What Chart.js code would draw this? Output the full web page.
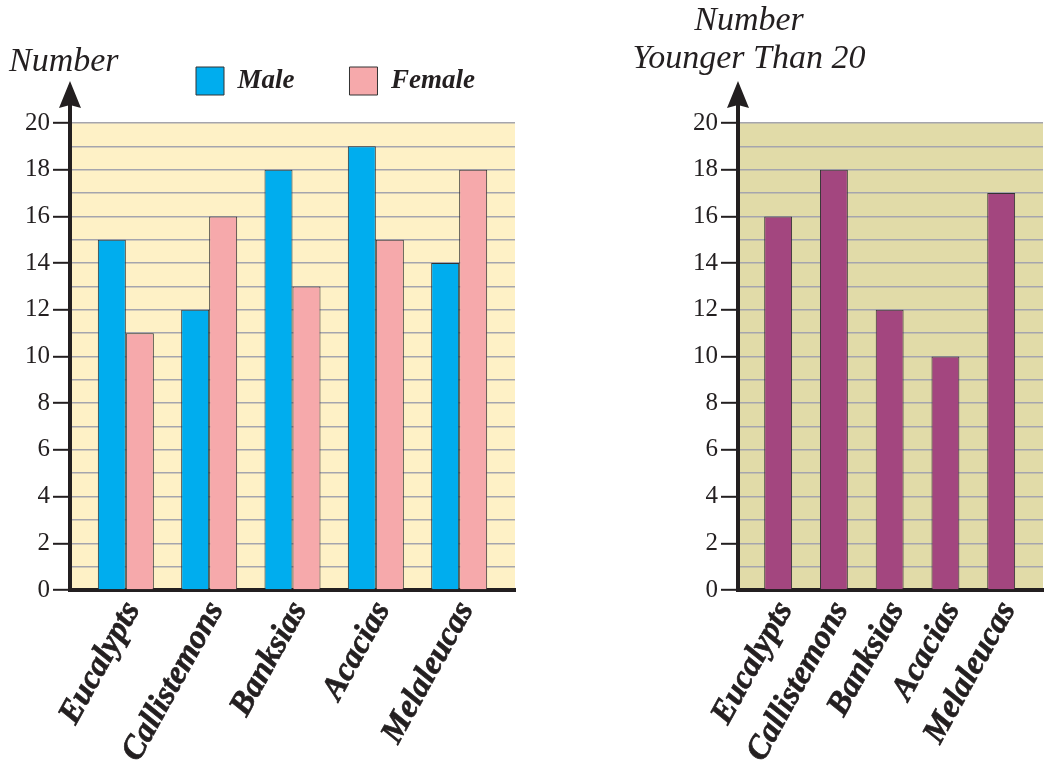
<!DOCTYPE html>
<html>
<head>
<meta charset="utf-8">
<script src="https://cdn.jsdelivr.net/npm/chart.js@4.4.1/dist/chart.umd.min.js"></script>
<style>
  html, body { margin: 0; padding: 0; background: #ffffff; }
  body { width: 1046px; height: 769px; position: relative; overflow: hidden; }
  .panel { position: absolute; top: 0; }
  #panelLeft { left: 0; width: 540px; height: 769px; }
  #panelRight { left: 560px; width: 486px; height: 769px; }
</style>
</head>
<body>
<div class="panel" id="panelLeft"><canvas id="genderChart" width="540" height="769"></canvas></div>
<div class="panel" id="panelRight"><canvas id="youngChart" width="486" height="769"></canvas></div>
<script>
// Tree counts by type
const categories = ['Eucalypts', 'Callistemons', 'Banksias', 'Acacias', 'Melaleucas'];
const maleCounts = [15, 12, 18, 19, 14];
const femaleCounts = [11, 16, 13, 15, 18];
const youngerThan20 = [16, 18, 12, 10, 17];
const yTickLabels = [0, 2, 4, 6, 8, 10, 12, 14, 16, 18, 20];

const SERIF = "'Liberation Serif', 'Times New Roman', serif";
const INK = '#231f20';
const GRID = '#a5a5ad';

const toPoints = vals => vals.map((v, i) => ({ x: i, y: v }));

// Fills the plot area, draws the arrowed value axis and the axis caption
const axisDecor = {
  id: 'axisDecor',
  beforeDraw(chart, args, opts) {
    const { ctx, chartArea: a } = chart;
    ctx.save();
    ctx.fillStyle = opts.fill;
    ctx.fillRect(a.left, a.top, a.right - a.left, a.bottom - a.top);
    ctx.restore();
  },
  afterDraw(chart, args, opts) {
    const { ctx, chartArea: a } = chart;
    const x = a.left;
    ctx.save();
    ctx.strokeStyle = INK;
    ctx.lineWidth = 4;
    ctx.beginPath();
    ctx.moveTo(x, a.top + 2);
    ctx.lineTo(x, a.top - 20);
    ctx.stroke();
    ctx.fillStyle = INK;
    ctx.beginPath();
    ctx.moveTo(x, a.top - 42);
    ctx.lineTo(x + 11, a.top - 15);
    ctx.lineTo(x, a.top - 18);
    ctx.lineTo(x - 11, a.top - 15);
    ctx.closePath();
    ctx.fill();
    ctx.font = `italic 34px ${SERIF}`;
    ctx.textAlign = opts.align;
    ctx.textBaseline = 'alphabetic';
    opts.lines.forEach(l => ctx.fillText(l.text, l.x, l.y));
    ctx.restore();
  }
};

// Places the legend row above the plot
const legendPlace = {
  id: 'legendPlace',
  afterLayout(chart, args, opts) {
    const lg = chart.legend;
    if (!lg || !opts.enabled) return;
    lg.left = opts.left;
    lg.right = opts.left + 1000;
    lg.top = opts.top;
  }
};

function buildScales(xMin, xMax) {
  return {
    x: {
      type: 'linear',
      bounds: 'data',
      offset: false,
      min: xMin,
      max: xMax,
      afterBuildTicks: s => { s.ticks = categories.map((c, i) => ({ value: i })); },
      afterFit: s => { s.height = 179; },
      grid: { display: false, offset: false },
      border: { display: true, color: INK, width: 4 },
      ticks: {
        autoSkip: false,
        minRotation: 61,
        maxRotation: 61,
        padding: -3,
        labelOffset: 7,
        color: INK,
        textStrokeColor: INK,
        textStrokeWidth: 0.7,
        font: { family: SERIF, size: 33, style: 'italic', weight: 'bold' },
        callback: v => categories[v]
      }
    },
    y: {
      min: 0,
      max: 20,
      afterFit: s => { s.width = 70; },
      ticks: {
        stepSize: 1,
        autoSkip: false,
        padding: 3,
        color: INK,
        font: { family: SERIF, size: 25 },
        callback: v => (yTickLabels.includes(v) ? String(v) : '')
      },
      grid: {
        color: c => (c.tick && c.tick.value === 0 ? 'rgba(0,0,0,0)' : GRID),
        lineWidth: 1.6,
        tickLength: 17,
        tickWidth: 2,
        tickColor: c => (c.tick && yTickLabels.includes(c.tick.value) ? INK : 'rgba(0,0,0,0)')
      },
      border: { display: true, color: INK, width: 4 }
    }
  };
}

new Chart(document.getElementById('genderChart'), {
  type: 'bar',
  data: {
    datasets: [
      {
        label: 'Male',
        data: toPoints(maleCounts),
        backgroundColor: '#00adee',
        borderColor: '#333333',
        borderWidth: 1,
        categoryPercentage: 0.672,
        barPercentage: 1
      },
      {
        label: 'Female',
        data: toPoints(femaleCounts),
        backgroundColor: '#f6a9ab',
        borderColor: '#333333',
        borderWidth: 1,
        categoryPercentage: 0.672,
        barPercentage: 1
      }
    ]
  },
  options: {
    responsive: false,
    animation: false,
    devicePixelRatio: 1,
    layout: { padding: { top: 30, left: 0, right: 25, bottom: 0 } },
    scales: buildScales(-0.67, 4.67),
    plugins: {
      tooltip: { enabled: false },
      legend: {
        display: true,
        position: 'top',
        align: 'start',
        labels: {
          boxWidth: 28,
          boxHeight: 28,
          padding: 55,
          color: INK,
          font: { family: SERIF, size: 27, style: 'italic', weight: 'bold' }
        }
      },
      legendPlace: { enabled: true, left: 141, top: 12 },
      axisDecor: {
        fill: '#fef1c6',
        align: 'left',
        lines: [{ text: 'Number', x: 9, y: 71 }]
      }
    }
  },
  plugins: [axisDecor, legendPlace]
});

new Chart(document.getElementById('youngChart'), {
  type: 'bar',
  data: {
    datasets: [
      {
        label: 'Younger Than 20',
        data: toPoints(youngerThan20),
        backgroundColor: '#a3467f',
        borderColor: '#333333',
        borderWidth: 1,
        categoryPercentage: 0.5,
        barPercentage: 1
      }
    ]
  },
  options: {
    responsive: false,
    animation: false,
    devicePixelRatio: 1,
    layout: { padding: { top: 123, left: 108, right: 3, bottom: 0 } },
    scales: buildScales(-0.72, 4.75),
    plugins: {
      tooltip: { enabled: false },
      legend: { display: false },
      legendPlace: { enabled: false },
      axisDecor: {
        fill: '#e1dba8',
        align: 'center',
        lines: [
          { text: 'Number', x: 189, y: 30 },
          { text: 'Younger Than 20', x: 189, y: 68 }
        ]
      }
    }
  },
  plugins: [axisDecor, legendPlace]
});
</script>
</body>
</html>
